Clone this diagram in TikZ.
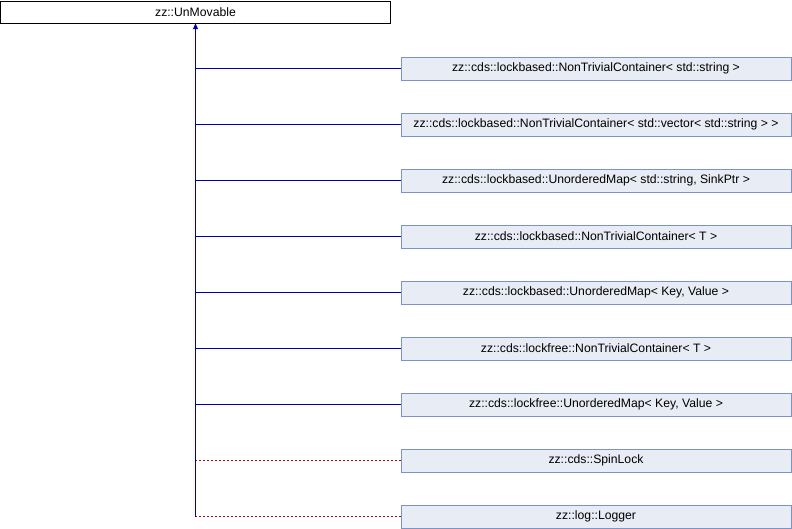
\documentclass[tikz,border=0pt]{standalone}
\usepackage{fontspec}
\setmainfont{Liberation Sans}
\usetikzlibrary{arrows.meta,positioning}
\definecolor{boxfill}{HTML}{E8ECF5}
\definecolor{boxline}{HTML}{7A94C8}
\definecolor{publine}{HTML}{0000A8}
\definecolor{privline}{HTML}{B00000}
\begin{document}
\begin{tikzpicture}[x=1pt, y=1pt, font=\fontsize{12.2}{14}\selectfont, node distance=56pt, on grid,
          base/.style = {shape=rectangle, draw=black, fill=white, inner sep=0pt, minimum width=390pt, minimum height=22pt},
          derived/.style = {shape=rectangle, draw=boxline, fill=boxfill, inner sep=0pt, minimum width=390pt, minimum height=23pt},
          pub/.style = {draw=publine, line width=1pt},
          priv/.style = {draw=privline, line width=1pt, dash pattern=on 2pt off 2pt}]
          \useasboundingbox (0,0) rectangle (792,-528);
          \node[base] (unmovable) at (195.5,-12) {zz::UnMovable};
          \node[derived] (ntcstring) at (596,-68.5) {zz::cds::lockbased::NonTrivialContainer< std::string >};
          \node[derived, below=of ntcstring] (ntcvector) {zz::cds::lockbased::NonTrivialContainer< std::vector< std::string > >};
          \node[derived, below=of ntcvector] (umapsink) {zz::cds::lockbased::UnorderedMap< std::string, SinkPtr >};
          \node[derived, below=of umapsink] (ntclb) {zz::cds::lockbased::NonTrivialContainer< T >};
          \node[derived, below=of ntclb] (umaplb) {zz::cds::lockbased::UnorderedMap< Key, Value >};
          \node[derived, below=of umaplb] (ntclf) {zz::cds::lockfree::NonTrivialContainer< T >};
          \node[derived, below=of ntclf] (umaplf) {zz::cds::lockfree::UnorderedMap< Key, Value >};
          \node[derived, below=of umaplf] (spinlock) {zz::cds::SpinLock};
          \node[derived, below=of spinlock] (logger) {zz::log::Logger};
          % trunk
          \coordinate (trunkend) at (logger.west -| unmovable.south);
          \draw[pub, -{Triangle[length=6pt, width=5pt]}] (trunkend) -- (unmovable.south);
          % branches
          \draw[pub] (ntcstring.west) -- (ntcstring.west -| unmovable.south);
          \draw[pub] (ntcvector.west) -- (ntcvector.west -| unmovable.south);
          \draw[pub] (umapsink.west) -- (umapsink.west -| unmovable.south);
          \draw[pub] (ntclb.west) -- (ntclb.west -| unmovable.south);
          \draw[pub] (umaplb.west) -- (umaplb.west -| unmovable.south);
          \draw[pub] (ntclf.west) -- (ntclf.west -| unmovable.south);
          \draw[pub] (umaplf.west) -- (umaplf.west -| unmovable.south);
          \draw[priv] (spinlock.west) -- (spinlock.west -| unmovable.south);
          \draw[priv] (logger.west) -- (logger.west -| unmovable.south);
\end{tikzpicture}
\end{document}
